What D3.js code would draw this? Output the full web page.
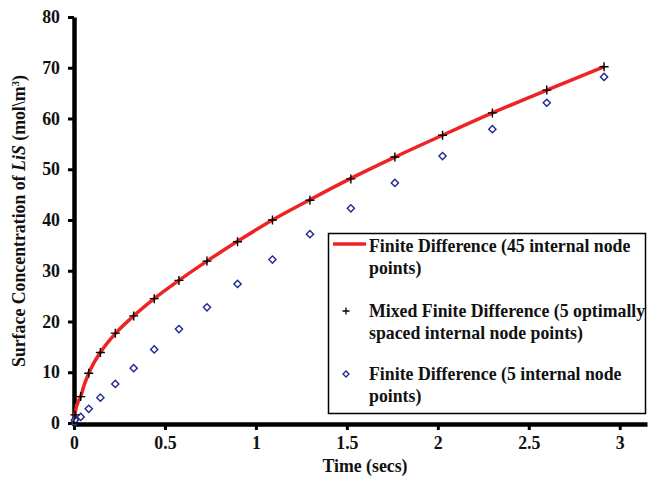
<!DOCTYPE html>
<html><head><meta charset="utf-8">
<script src="https://cdn.jsdelivr.net/npm/d3@7"></script>
<style>
body{margin:0;background:#fff;}
svg{display:block;font-family:"Liberation Serif","Times New Roman",serif;font-weight:bold;}
</style></head>
<body>
<svg id="c" width="649" height="477"></svg>
<script>
// Time samples (secs)
const times = [0, 0.005, 0.037, 0.081, 0.145, 0.227, 0.328, 0.441, 0.577, 0.731, 0.899, 1.091, 1.297, 1.522, 1.764, 2.026, 2.3, 2.599, 2.914];
// Mixed Finite Difference (5 optimally spaced internal node points)
const mixedFD = [0, 1.6, 5.2, 9.8, 13.9, 17.7, 21.1, 24.5, 28.1, 31.9, 35.7, 40.0, 43.9, 48.1, 52.4, 56.7, 61.1, 65.6, 70.2];
// Finite Difference (5 internal node points)
const fd5 = [0, 0.6, 1.2, 2.8, 5.0, 7.7, 10.8, 14.5, 18.5, 22.8, 27.4, 32.2, 37.2, 42.3, 47.3, 52.6, 57.9, 63.1, 68.2];
// Finite Difference (45 internal node points) – continuous curve
const lineT = [0, 0.002, 0.005, 0.012, 0.022, 0.037, 0.058, 0.081, 0.11, 0.145, 0.227, 0.328, 0.441, 0.577, 0.731, 0.899, 1.091, 1.297, 1.522, 1.764, 2.026, 2.3, 2.599, 2.914];
const fd45 = [0, 1.0, 1.7, 3.0, 4.1, 5.3, 7.7, 9.8, 11.9, 13.9, 17.6, 21.1, 24.5, 28.1, 31.9, 35.8, 40.0, 44.0, 48.2, 52.4, 56.7, 61.1, 65.6, 70.2];

const xTicks = [0, 0.5, 1, 1.5, 2, 2.5, 3];
const yTicks = [0, 10, 20, 30, 40, 50, 60, 70, 80];
const legendLabels = [
  ["Finite Difference (45 internal node", "points)"],
  ["Mixed Finite Difference (5 optimally", "spaced internal node points)"],
  ["Finite Difference (5 internal node", "points)"]
];

const svg = d3.select("#c");
const x = d3.scaleLinear().domain([0, 3.15]).range([74, 647]);
const y = d3.scaleLinear().domain([0, 80]).range([423, 17]);
const FS = "17.8px";

// axes
const xAxis = svg.append("g").attr("transform", "translate(0,424)")
  .call(d3.axisBottom(x).tickValues(xTicks).tickSize(6).tickSizeOuter(0).tickFormat(d3.format("")));
xAxis.select(".domain").attr("stroke-width", 4.5);
xAxis.selectAll(".tick line").attr("stroke-width", 3);
xAxis.selectAll(".tick text").attr("font-size", FS).attr("font-family", "Liberation Serif").attr("font-weight", "bold").attr("dy", "0.9em").attr("fill", "#111");

const yAxis = svg.append("g").attr("transform", "translate(74,0)")
  .call(d3.axisLeft(y).tickValues(yTicks).tickSize(6).tickSizeOuter(0));
yAxis.select(".domain").attr("stroke-width", 4.5);
yAxis.selectAll(".tick line").attr("stroke-width", 3);
yAxis.selectAll(".tick text").attr("font-size", FS).attr("font-family", "Liberation Serif").attr("font-weight", "bold").attr("x", -14).attr("fill", "#111");

// axis titles
svg.append("text").attr("x", 365).attr("y", 472).attr("text-anchor", "middle")
  .attr("font-size", FS).attr("fill", "#111").text("Time (secs)");
const yt = svg.append("text").attr("transform", "translate(25,221) rotate(-90)")
  .attr("text-anchor", "middle").attr("font-size", FS).attr("fill", "#111");
yt.append("tspan").text("Surface Concentration of ");
yt.append("tspan").attr("font-style", "italic").text("LiS");
yt.append("tspan").text(" (mol\\m");
yt.append("tspan").attr("font-size", "11px").attr("dy", "-0.55em").text("3");
yt.append("tspan").attr("dy", "0.35em").text(")");

// red line
const lineData = lineT.map((t, i) => [t, fd45[i]]);
svg.append("path").datum(lineData)
  .attr("fill", "none").attr("stroke", "#ee2424").attr("stroke-width", 3.5)
  .attr("d", d3.line().x(d => x(d[0])).y(d => y(d[1])).curve(d3.curveMonotoneX));

// diamonds
const dsz = 3.6;
const diamond = (cx, cy) => `M${cx},${cy - dsz}L${cx + dsz},${cy}L${cx},${cy + dsz}L${cx - dsz},${cy}Z`;
svg.append("g").selectAll("path").data(times.map((t, i) => [t, fd5[i]])).join("path")
  .attr("d", d => diamond(x(d[0]), y(d[1])))
  .attr("fill", "#fff").attr("stroke", "#1f2a8f").attr("stroke-width", 1.4);

// crosses
const cs = 4.5;
const cross = (cx, cy) => `M${cx - cs},${cy}H${cx + cs}M${cx},${cy - cs}V${cy + cs}`;
svg.append("g").selectAll("path").data(times.map((t, i) => [t, mixedFD[i]])).join("path")
  .attr("d", d => cross(x(d[0]), y(d[1])))
  .attr("fill", "none").attr("stroke", "#000").attr("stroke-width", 1.4);

// legend
const lg = svg.append("g");
lg.append("rect").attr("x", 328.5).attr("y", 233.5).attr("width", 317).attr("height", 180)
  .attr("fill", "#fff").attr("stroke", "#000").attr("stroke-width", 1.5);
const baselines = [[252, 274], [317, 339], [380, 402]];
legendLabels.forEach((lines, i) => {
  lines.forEach((s, j) => {
    lg.append("text").attr("x", 369).attr("y", baselines[i][j]).attr("font-size", FS).attr("fill", "#111").text(s);
  });
});
lg.append("line").attr("x1", 333).attr("x2", 366).attr("y1", 244).attr("y2", 244)
  .attr("stroke", "#ee2424").attr("stroke-width", 3.5);
const ls = 3.5;
lg.append("path").attr("d", `M${346 - ls},311H${346 + ls}M346,${311 - ls}V${311 + ls}`)
  .attr("stroke", "#000").attr("stroke-width", 1.3);
lg.append("path").attr("d", `M346,${374 - 3}L${346 + 3},374L346,${374 + 3}L${346 - 3},374Z`)
  .attr("fill", "#fff").attr("stroke", "#1f2a8f").attr("stroke-width", 1.3);
</script>
</body></html>
